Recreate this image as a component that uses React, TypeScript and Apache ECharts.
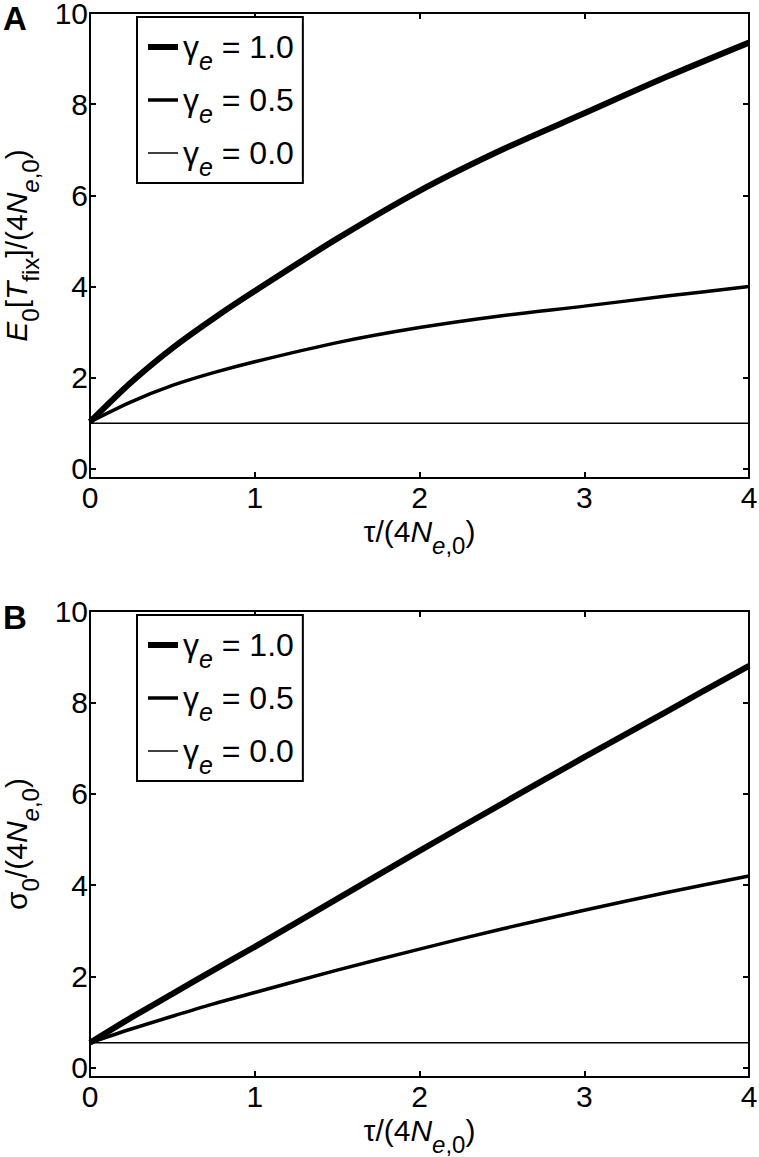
import React, { useEffect, useRef } from "react";
import * as echarts from "echarts";

// ---- data ----
const tau = [0, 0.25, 0.5, 0.75, 1, 1.5, 2, 2.5, 3, 3.5, 4];
const meanGamma10 = [1.03, 1.9, 2.65, 3.3, 3.9, 5.05, 6.1, 7.0, 7.8, 8.6, 9.35];
const meanGamma05 = [1.03, 1.47, 1.83, 2.11, 2.35, 2.77, 3.1, 3.36, 3.57, 3.79, 4.0];
const meanGamma00 = [1, 1, 1, 1, 1, 1, 1, 1, 1, 1, 1];
const sdGamma10 = [0.55, 1.1, 1.62, 2.14, 2.65, 3.7, 4.75, 5.78, 6.8, 7.8, 8.8];
const sdGamma05 = [0.55, 0.85, 1.13, 1.4, 1.65, 2.14, 2.6, 3.04, 3.45, 3.84, 4.2];
const sdGamma00 = [0.55, 0.55, 0.55, 0.55, 0.55, 0.55, 0.55, 0.55, 0.55, 0.55, 0.55];
const xTickValues = [0, 1, 2, 3, 4];
const yTickValues = [0, 2, 4, 6, 8, 10];
const seriesNames = ["γe = 1.0", "γe = 0.5", "γe = 0.0"];
const legendValues = ["1.0", "0.5", "0.0"];
const panelLabels = ["A", "B"];

const FONT = "'Liberation Sans', Arial, Helvetica, sans-serif";

const rich: any = {
  n: { fontFamily: FONT, fontSize: 30, lineHeight: 52, verticalAlign: "middle", color: "#000" },
  i: { fontFamily: FONT, fontSize: 30, lineHeight: 52, verticalAlign: "middle", fontStyle: "italic", color: "#000" },
  s: { fontFamily: FONT, fontSize: 24, lineHeight: 24, padding: [28, 0, 0, 0], verticalAlign: "top", color: "#000" },
  si: { fontFamily: FONT, fontSize: 24, lineHeight: 24, padding: [28, 0, 0, 0], verticalAlign: "top", fontStyle: "italic", color: "#000" },
  ln: { fontFamily: FONT, fontSize: 32, lineHeight: 54, verticalAlign: "middle", color: "#000" },
  lsi: { fontFamily: FONT, fontSize: 25, lineHeight: 25, padding: [28, 0, 0, 0], verticalAlign: "top", fontStyle: "italic", color: "#000" },
};

const lineWidths = [6, 3.5, 1.5];

const panels = [
  {
    top: 13,
    height: 465,
    values: [meanGamma10, meanGamma05, meanGamma00],
    yName: "{i|E}{s|0}{n|[}{i|T}{s|fix}{n|]/(4}{i|N}{si|e}{s|,0}{n|)}",
    legendTop: 17,
    labelTop: 2,
  },
  {
    top: 611,
    height: 466,
    values: [sdGamma10, sdGamma05, sdGamma00],
    yName: "{n|σ}{s|0}{n|/(4}{i|N}{si|e}{s|,0}{n|)}",
    legendTop: 615,
    labelTop: 601,
  },
];

const xName = "{n|τ/(4}{i|N}{si|e}{s|,0}{n|)}";

export default function App() {
  const ref = useRef<HTMLDivElement>(null);

  useEffect(() => {
    document.body.style.margin = "0";
    if (!ref.current) return;
    const chart = echarts.init(ref.current, undefined, { renderer: "svg" });

    const axisLine = { show: true, onZero: false, lineStyle: { color: "#000", width: 2 } };
    const axisTick = { show: true, inside: true, length: 6, lineStyle: { color: "#000", width: 2 } };
    const labelStyle = { fontFamily: FONT, fontSize: 30, lineHeight: 24, color: "#000" };

    const grid: any[] = [];
    const xAxis: any[] = [];
    const yAxis: any[] = [];
    const series: any[] = [];
    const legend: any[] = [];
    const graphic: any[] = [];

    panels.forEach((p, k) => {
      grid.push({
        left: 90,
        top: p.top,
        width: 659,
        height: p.height,
        containLabel: false,
        outerBoundsMode: "none",
      });
      xAxis.push({
        gridIndex: k,
        type: "value",
        min: 0,
        max: 4,
        interval: 1,
        position: "bottom",
        axisLine,
        axisTick,
        splitLine: { show: false },
        axisLabel: { ...labelStyle, margin: 7, customValues: xTickValues },
        name: xName,
        nameLocation: "middle",
        nameGap: 27,
        nameMoveOverlap: false,
        nameTextStyle: { rich },
      });
      xAxis.push({
        gridIndex: k,
        type: "value",
        min: 0,
        max: 4,
        interval: 1,
        position: "top",
        axisLine,
        axisTick,
        splitLine: { show: false },
        axisLabel: { show: false },
      });
      yAxis.push({
        gridIndex: k,
        type: "value",
        min: -0.2,
        max: 10,
        position: "left",
        axisLine,
        axisTick: { ...axisTick, customValues: yTickValues },
        splitLine: { show: false },
        axisLabel: { ...labelStyle, margin: 2, customValues: yTickValues },
        name: p.yName,
        nameLocation: "middle",
        nameGap: 48,
        nameMoveOverlap: false,
        nameTextStyle: { rich },
      });
      yAxis.push({
        gridIndex: k,
        type: "value",
        min: -0.2,
        max: 10,
        position: "right",
        axisLine,
        axisTick: { ...axisTick, customValues: yTickValues },
        splitLine: { show: false },
        axisLabel: { show: false },
      });
      p.values.forEach((vals, j) => {
        series.push({
          type: "line",
          name: seriesNames[j],
          xAxisIndex: 2 * k,
          yAxisIndex: 2 * k,
          data: tau.map((t, i) => [t, vals[i]]),
          symbol: "none",
          smooth: 0.3,
          lineStyle: { color: "#000", width: lineWidths[j] },
          itemStyle: { color: "#000" },
          emphasis: { disabled: true },
          z: 3,
        });
      });
      legend.push({
        orient: "vertical",
        left: 137,
        top: p.legendTop,
        data: seriesNames,
        selectedMode: false,
        backgroundColor: "#fff",
        borderColor: "#000",
        borderWidth: 2,
        borderRadius: 0,
        padding: [3, 9, 4, 8],
        itemWidth: 30,
        itemHeight: 14,
        itemGap: 0,
        lineStyle: { width: "inherit", color: "#000" },
        itemStyle: { opacity: 0 },
        formatter: (name: string) => {
          const idx = seriesNames.indexOf(name);
          return "{ln|γ}{lsi|e}{ln| = " + legendValues[idx] + "}";
        },
        textStyle: { rich, color: "#000" },
        z: 10,
      });
      graphic.push({
        type: "text",
        left: 3,
        top: p.labelTop,
        style: {
          text: panelLabels[k],
          fontFamily: FONT,
          fontSize: 33,
          fontWeight: "bold",
          fill: "#000",
        },
      });
    });

    chart.setOption({
      animation: false,
      backgroundColor: "#fff",
      grid,
      xAxis,
      yAxis,
      series,
      legend,
      graphic,
      tooltip: { show: false },
    });

    return () => chart.dispose();
  }, []);

  return <div ref={ref} style={{ width: 759, height: 1157 }} />;
}
